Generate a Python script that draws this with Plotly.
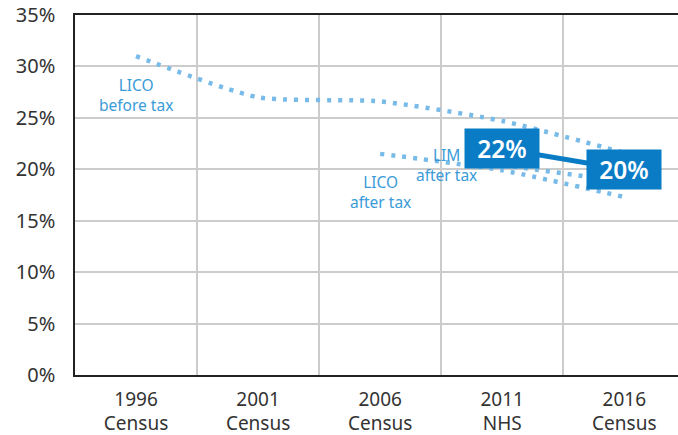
import plotly.graph_objects as go

CATEGORIES = ["1996<br>Census", "2001<br>Census", "2006<br>Census", "2011<br>NHS", "2016<br>Census"]

LICO_BEFORE = [31.0, 27.0, 26.6, 24.7, 21.6]
LICO_AFTER = [None, None, 21.5, 19.9, 17.3]
LIM_AFTER = [None, None, None, 20.4, 18.8]
HIGHLIGHT = [None, None, None, 22, 20]

DOT_COLOR = "#78BBE8"
LABEL_COLOR = "#3A9BD8"
BOX_COLOR = "#0A7CC6"
FONT = "Noto Sans"

fig = go.Figure()

for vals in [LICO_BEFORE, LICO_AFTER, LIM_AFTER]:
    fig.add_trace(go.Scatter(
        x=CATEGORIES, y=vals, mode="lines",
        line=dict(color=DOT_COLOR, width=4.5, dash="4px,7px", shape="spline", smoothing=0.6),
        connectgaps=False, hoverinfo="skip",
    ))

fig.add_trace(go.Scatter(
    x=CATEGORIES, y=HIGHLIGHT, mode="lines",
    line=dict(color=BOX_COLOR, width=5), hoverinfo="skip",
))

# series labels
labels = [
    (0, 27.2, "LICO<br>before tax"),
    (2, 17.8, "LICO<br>after tax"),
    (2.54, 20.4, "LIM<br>after tax"),
]
for x, y, t in labels:
    fig.add_annotation(x=x, y=y, text=t, showarrow=False,
                       font=dict(family=FONT, size=15.5, color=LABEL_COLOR))

# value boxes
for i, v in enumerate(HIGHLIGHT):
    if v is None:
        continue
    fig.add_annotation(x=i, y=v, text=f"{v}%", showarrow=False,
                       bgcolor=BOX_COLOR, width=72, height=37,
                       font=dict(family=FONT, size=24.5, color="white", weight=600))

fig.update_xaxes(
    type="category", range=[-0.5, 4.44], tickson="boundaries", automargin=False,
    showgrid=True, gridcolor="#cccccc", gridwidth=1.5,
    showline=True, linecolor="#222222", linewidth=1.5, mirror=True,
    ticks="", ticklabelstandoff=6,
    tickfont=dict(family=FONT, size=19, color="#333333"),
)
fig.update_yaxes(
    range=[0, 35], dtick=5, ticksuffix="%", automargin=False,
    showgrid=True, gridcolor="#cccccc", gridwidth=1.5, zeroline=False,
    showline=True, linecolor="#222222", linewidth=1.5,
    ticks="outside", ticklen=14, tickcolor="rgba(0,0,0,0)",
    tickfont=dict(family=FONT, size=20, color="#333333"),
)
fig.update_layout(
    width=678, height=435, showlegend=False,
    margin=dict(l=75, r=0, t=15, b=60),
    plot_bgcolor="white", paper_bgcolor="white",
)

fig.write_html("out.html", config={"displayModeBar": False},
               post_script="document.body.style.margin='0';")
